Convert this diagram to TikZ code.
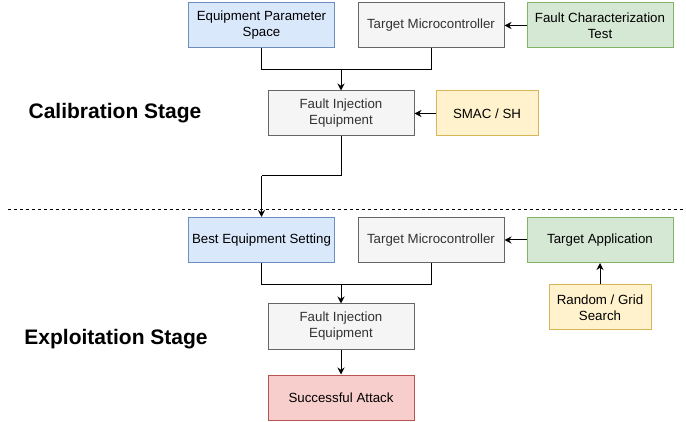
\documentclass[tikz,border=0pt]{standalone}
\usepackage{fontspec}
\setmainfont{Liberation Sans}
\usetikzlibrary{arrows.meta}
\definecolor{bfill}{HTML}{DAE8FC}\definecolor{bdraw}{HTML}{6C8EBF}
\definecolor{gfill}{HTML}{F5F5F5}\definecolor{gdraw}{HTML}{666666}
\definecolor{nfill}{HTML}{D5E8D4}\definecolor{ndraw}{HTML}{82B366}
\definecolor{yfill}{HTML}{FFF2CC}\definecolor{ydraw}{HTML}{D6B656}
\definecolor{rfill}{HTML}{F8CECC}\definecolor{rdraw}{HTML}{B85450}
\definecolor{gtext}{HTML}{333333}
\tikzset{
  box/.style={draw, line width=1pt, minimum width=146pt, minimum height=45pt, inner sep=1pt,
    align=center, font=\fontsize{13.3}{16}\selectfont},
  bluebox/.style={box, fill=bfill, draw=bdraw},
  graybox/.style={box, fill=gfill, draw=gdraw, text=gtext},
  greenbox/.style={box, fill=nfill, draw=ndraw},
  yellowbox/.style={box, fill=yfill, draw=ydraw, minimum width=102pt},
  redbox/.style={box, fill=rfill, draw=rdraw},
  conn/.style={line width=1pt},
  arr/.style={conn, -{Stealth[length=7pt,width=7pt]}},
  stage/.style={font=\fontsize{21}{24}\selectfont\bfseries}
}
\begin{document}
\begin{tikzpicture}[x=1pt,y=-1pt]
\useasboundingbox (0,0) rectangle (686,422);
% top stage
\node[bluebox] (eps) at (261.5,25.5) {Equipment Parameter\\Space};
\node[graybox] (tm1) at (431,25.5) {Target Microcontroller};
\node[greenbox] (fct) at (600,25.5) {Fault Characterization\\Test};
\node[graybox] (fie1) at (341,113.5) {Fault Injection\\Equipment};
\node[yellowbox] (smac) at (487,113.5) {SMAC / SH};
\node[stage] (cal) at (115,113) {Calibration Stage};
\coordinate (j1) at (341,70);
\draw[conn] (eps.south) |- (j1);
\draw[conn] (tm1.south) |- (j1);
\draw[arr] (j1) -- (fie1.north);
\draw[arr] (fct.west) -- (tm1.east);
\draw[arr] (smac.west) -- (fie1.east);
% divider
\coordinate (d1) at (8,209);
\coordinate (d2) at (686,209);
\draw[line width=0.8pt, dash pattern=on 3pt off 3pt] (d1) -- (d2);
% bottom stage
\node[bluebox] (best) at (261.5,240) {Best Equipment Setting};
\node[graybox] (tm2) at (431,240) {Target Microcontroller};
\node[greenbox] (ta) at (600,240) {Target Application};
\node[yellowbox] (rg) at (600,307.5) {Random / Grid\\Search};
\node[graybox] (fie2) at (341,326.5) {Fault Injection\\Equipment};
\node[redbox] (sa) at (341,397.5) {Successful Attack};
\node[stage] (exp) at (116,339) {Exploitation Stage};
\coordinate (k1) at (341,176);
\coordinate (k2) at (261.5,176);
\draw[conn] (fie1.south) -- (k1) -- (k2);
\draw[arr] (k2) -- (best.north);
\coordinate (j2) at (341,285);
\draw[conn] (best.south) |- (j2);
\draw[conn] (tm2.south) |- (j2);
\draw[arr] (j2) -- (fie2.north);
\draw[arr] (ta.west) -- (tm2.east);
\draw[arr] (rg.north) -- (ta.south);
\draw[arr] (fie2.south) -- (sa.north);
\end{tikzpicture}
\end{document}
